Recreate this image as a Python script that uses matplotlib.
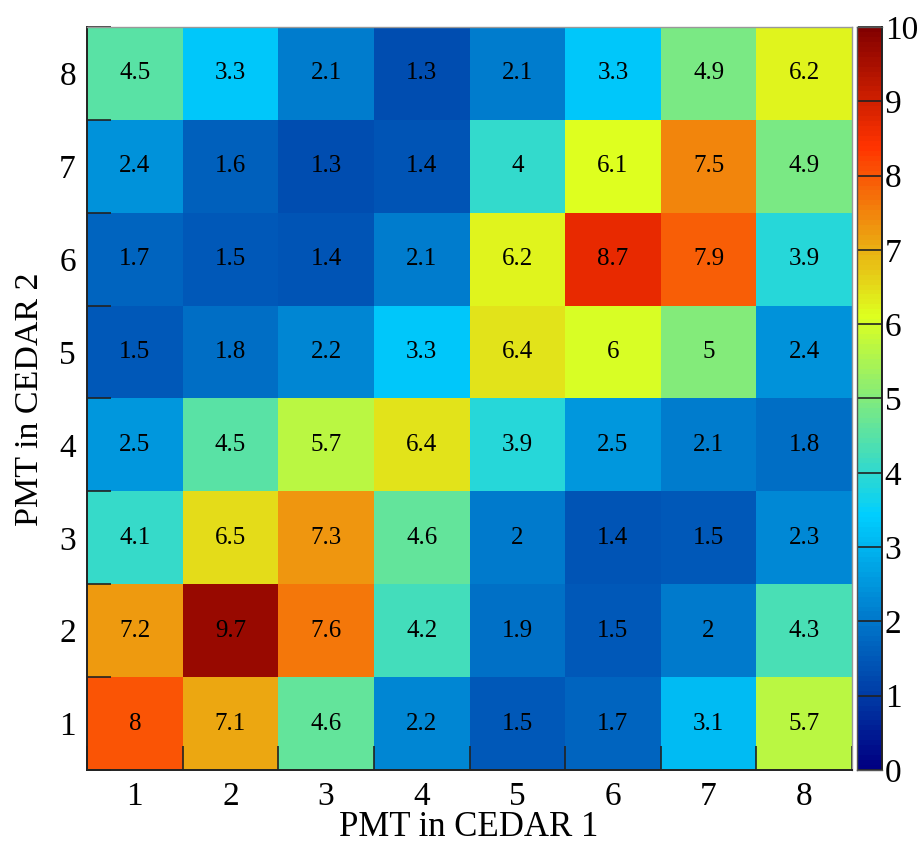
import numpy as np
import matplotlib
matplotlib.use("Agg")
import matplotlib.pyplot as plt
from matplotlib.colors import LinearSegmentedColormap, BoundaryNorm

plt.rcParams['font.family'] = ['Liberation Serif', 'DejaVu Serif']

x_labels = ["1", "2", "3", "4", "5", "6", "7", "8"]
y_labels = ["1", "2", "3", "4", "5", "6", "7", "8"]
# rows: y = 1 .. 8 ; columns: x = 1 .. 8
values = np.array([
    [8.0, 7.1, 4.6, 2.2, 1.5, 1.7, 3.1, 5.7],
    [7.2, 9.7, 7.6, 4.2, 1.9, 1.5, 2.0, 4.3],
    [4.1, 6.5, 7.3, 4.6, 2.0, 1.4, 1.5, 2.3],
    [2.5, 4.5, 5.7, 6.4, 3.9, 2.5, 2.1, 1.8],
    [1.5, 1.8, 2.2, 3.3, 6.4, 6.0, 5.0, 2.4],
    [1.7, 1.5, 1.4, 2.1, 6.2, 8.7, 7.9, 3.9],
    [2.4, 1.6, 1.3, 1.4, 4.0, 6.1, 7.5, 4.9],
    [4.5, 3.3, 2.1, 1.3, 2.1, 3.3, 4.9, 6.2],
])
zmin, zmax = 0, 10

# ROOT kRainBow-like palette
stops = [0.0, 0.34, 0.61, 0.84, 1.0]
red = [0.0, 0.0, 0.87, 1.0, 0.51]
green = [0.0, 0.81, 1.0, 0.2, 0.0]
blue = [0.51, 1.0, 0.12, 0.0, 0.0]
cmap = LinearSegmentedColormap.from_list(
    "rainbow_root", [(s, (r, g, b)) for s, r, g, b in zip(stops, red, green, blue)], N=255)
levels = np.linspace(zmin, zmax, 151)
norm = BoundaryNorm(levels, cmap.N)

W, H = 921, 843
fig = plt.figure(figsize=(W / 100, H / 100), dpi=100)
ax = fig.add_axes([87 / W, 1 - 770 / H, (852 - 87) / W, (770 - 27) / H])
cax = fig.add_axes([857 / W, 1 - 770 / H, (882 - 857) / W, (770 - 27) / H])

nx, ny = len(x_labels), len(y_labels)
xe = np.arange(nx + 1) + 0.5
ye = np.arange(ny + 1) + 0.5
ax.pcolormesh(xe, ye, values, cmap=cmap, norm=norm)
for j in range(ny):
    for i in range(nx):
        ax.text(i + 1, j + 1, format(values[j, i], 'g'), ha='center', va='center',
                fontsize=18, color='black')

ax.set_xlim(0.5, nx + 0.5)
ax.set_ylim(0.5, ny + 0.5)
ax.set_xticks(np.arange(1, nx + 1))
ax.set_xticklabels(x_labels)
ax.set_yticks(np.arange(1, ny + 1))
ax.set_yticklabels(y_labels)
ax.tick_params(axis='both', which='major', length=0, labelsize=24, pad=8)
ax.set_xticks(xe, minor=True)
ax.set_yticks(ye, minor=True)
ax.tick_params(axis='both', which='minor', direction='in', length=17, width=1.2, color='#222222')
fig.text(469 / W, 1 - 836 / H, "PMT in CEDAR 1", fontsize=25, ha='center', va='baseline')
fig.text(30 / W, 1 - 399 / H, "PMT in CEDAR 2", fontsize=24.5, ha='center', va='center',
         rotation=90)
for s in ['left', 'bottom']:
    ax.spines[s].set_linewidth(1.4)
    ax.spines[s].set_color('#222222')
for s in ['top', 'right']:
    ax.spines[s].set_linewidth(1.0)
    ax.spines[s].set_color('#999999')

# colour bar
cb_vals = np.linspace(zmin, zmax, 301)
cax.pcolormesh([0, 1], cb_vals, ((cb_vals[:-1] + cb_vals[1:]) / 2)[:, None],
               cmap=cmap, norm=norm)
cax.set_xlim(0, 1)
cax.set_ylim(zmin, zmax)
cax.set_xticks([])
cax.yaxis.tick_right()
cax.set_yticks(np.arange(zmin, zmax + 1, 1))
cax.tick_params(axis='y', direction='in', length=17, width=1.2, labelsize=24, pad=2,
                color='#222222')
for s in cax.spines.values():
    s.set_linewidth(1.0)
    s.set_color('#555555')
cax.spines['right'].set_color('#222222')
cax.spines['right'].set_linewidth(1.4)

fig.savefig("out.png", dpi=100)
